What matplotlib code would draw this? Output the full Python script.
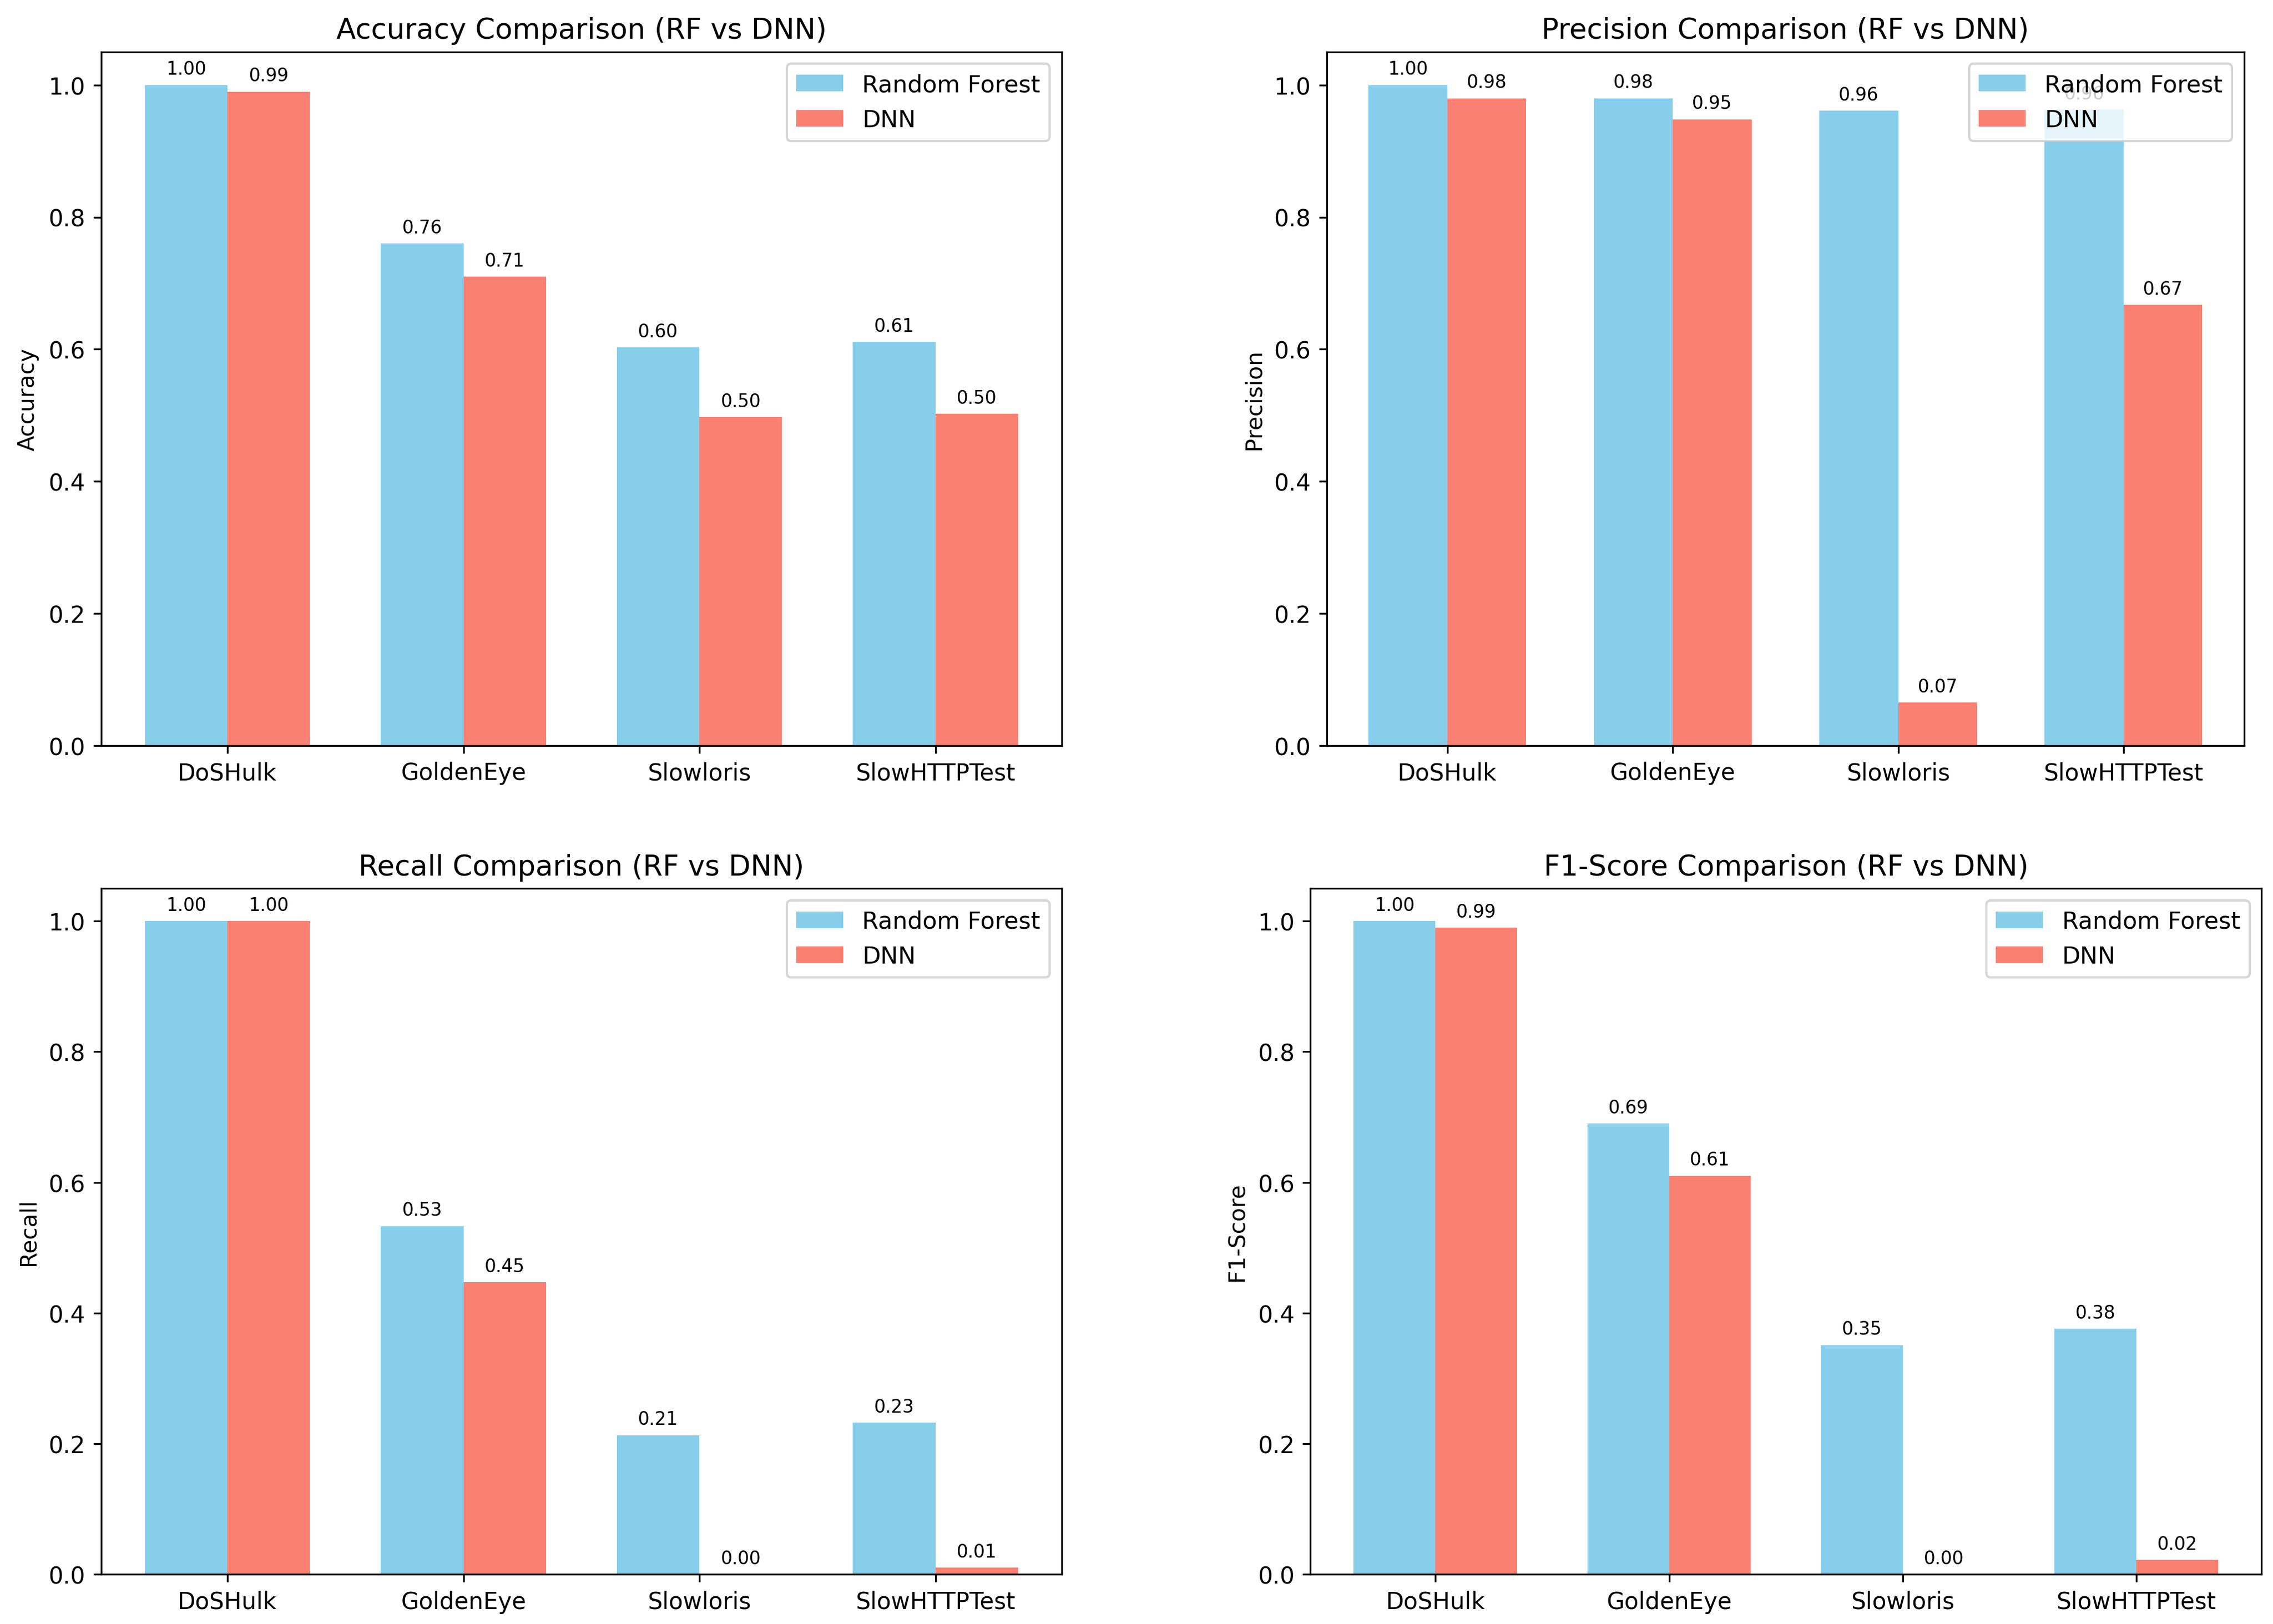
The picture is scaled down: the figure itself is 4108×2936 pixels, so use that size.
import numpy as np
import matplotlib
matplotlib.use("Agg")
import matplotlib.pyplot as plt

attacks = ["DoSHulk", "GoldenEye", "Slowloris", "SlowHTTPTest"]

accuracy_rf = [1.00, 0.76, 0.603, 0.611]
accuracy_dnn = [0.99, 0.71, 0.497, 0.502]

precision_rf = [1.00, 0.98, 0.961, 0.963]
precision_dnn = [0.98, 0.948, 0.065, 0.667]

recall_rf = [1.00, 0.533, 0.213, 0.232]
recall_dnn = [1.00, 0.447, 0.0, 0.01]

f1_rf = [1.00, 0.69, 0.351, 0.376]
f1_dnn = [0.99, 0.61, 0.0, 0.022]

metrics = [
    ("Accuracy", accuracy_rf, accuracy_dnn),
    ("Precision", precision_rf, precision_dnn),
    ("Recall", recall_rf, recall_dnn),
    ("F1-Score", f1_rf, f1_dnn),
]

boxes = [
    [0.0445, 0.5407, 0.4226, 0.4270],
    [0.5837, 0.5407, 0.4036, 0.4270],
    [0.0445, 0.0306, 0.4226, 0.4222],
    [0.5765, 0.0306, 0.4184, 0.4222],
]


def label_bars(ax, bars):
    for b in bars:
        h = b.get_height()
        ax.annotate("{:.2f}".format(h), xy=(b.get_x() + b.get_width() / 2, h),
                    xytext=(0, 3), textcoords="offset points",
                    ha="center", va="bottom", fontsize=8)


def main():
    fig = plt.figure(figsize=(14, 10.009))
    x = np.arange(len(attacks))
    width = 0.35

    for box, (name, rf, dnn) in zip(boxes, metrics):
        ax = fig.add_axes(box)
        b1 = ax.bar(x - width / 2, rf, width, label="Random Forest", color="skyblue")
        b2 = ax.bar(x + width / 2, dnn, width, label="DNN", color="salmon")
        label_bars(ax, b1)
        label_bars(ax, b2)
        ax.set_title("{} Comparison (RF vs DNN)".format(name), fontsize=12.6)
        ax.set_ylabel(name)
        ax.set_xticks(x)
        ax.set_xticklabels(attacks)
        ax.tick_params(labelsize=10.3)
        ax.legend(loc="upper right", fontsize=10.5)

    fig.savefig("out.png", dpi=4108 / 14)


if __name__ == "__main__":
    main()
